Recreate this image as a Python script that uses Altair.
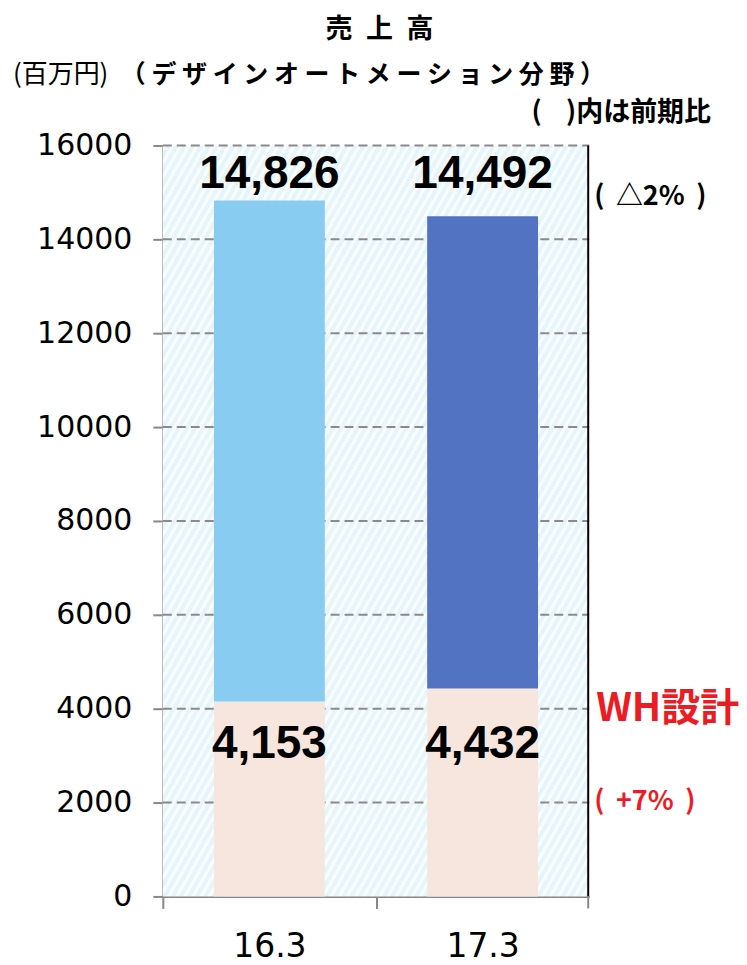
import altair as alt
import pandas as pd

# ---- data ----
categories = ["16.3", "17.3"]
wh_values = [4153, 4432]          # WH設計 segment
totals = [14826, 14492]           # デザインオートメーション分野 total
y_ticks = [0, 2000, 4000, 6000, 8000, 10000, 12000, 14000, 16000]

df = pd.DataFrame({
    "cat": categories,
    "wh": wh_values,
    "total": totals,
    "wh_label": [f"{v:,}" for v in wh_values],
    "total_label": [f"{v:,}" for v in totals],
})

JP = "Noto Sans CJK JP"
NUM = "Liberation Sans"
AX = "DejaVu Sans"
W, H = 427, 752
STEP = W / 2
RED = "#ec1c24"
GRAY = "#888888"

# hatched background gradient (style only)
n = 105
stops = []
for i in range(n):
    a = i / n
    b = (i + 0.45) / n
    c = (i + 1) / n
    stops += [
        alt.GradientStop(offset=a, color="#f8fcfd"),
        alt.GradientStop(offset=b, color="#f8fcfd"),
        alt.GradientStop(offset=b, color="#e6f5f9"),
        alt.GradientStop(offset=c, color="#e6f5f9"),
    ]
bg_grad = alt.LinearGradient(gradient="linear", x1=0, y1=0, x2=1, y2=1, stops=stops)

x_enc = alt.X(
    "cat:N",
    sort=categories,
    scale=alt.Scale(paddingInner=0.48, paddingOuter=0.24),
    axis=alt.Axis(
        title=None, labelAngle=0, labelFont=AX, labelFontSize=33, labelColor="black",
        labelPadding=22, tickOffset=-STEP / 2, labelOffset=STEP / 2, tickSize=12, tickColor=GRAY,
        tickWidth=2, domainColor=GRAY, domainWidth=2, grid=False,
    ),
)
y_scale = alt.Scale(domain=[0, 16000], nice=False)
y_axis = alt.Axis(
    title=None, values=y_ticks, format="d", labelFont=AX, labelFontSize=30,
    labelColor="black", labelPadding=21, tickSize=10, tickColor=GRAY, tickWidth=2,
    domainColor=GRAY, domainWidth=2, grid=False,
)

base = alt.Chart(df)

background = alt.Chart(pd.DataFrame({"v": [0]})).mark_rect(color=bg_grad).encode(
    x=alt.value(0), x2=alt.value(W), y=alt.value(0), y2=alt.value(H)
)
grid = alt.Chart(pd.DataFrame({"v": y_ticks[1:]})).mark_rule(
    color="#8a8a8a", strokeDash=[9, 5], strokeWidth=2
).encode(
    y=alt.Y("v:Q", scale=y_scale, axis=y_axis), x=alt.value(0), x2=alt.value(W)
)

wh_bars = base.mark_bar(color="#f7e6dd").encode(
    x=x_enc,
    y=alt.Y("wh:Q", scale=y_scale, axis=y_axis),
)
top_bars = base.mark_bar().encode(
    x=x_enc,
    y=alt.Y("wh:Q", scale=y_scale, axis=y_axis),
    y2="total:Q",
    color=alt.Color("cat:N", scale=alt.Scale(domain=categories, range=["#88cdf1", "#5273c2"]), legend=None),
)
total_text = base.mark_text(font=NUM, fontWeight="bold", fontSize=46, baseline="alphabetic", color="black").encode(
    x=x_enc, y=alt.value(43), text="total_label:N"
)
wh_text = base.mark_text(font=NUM, fontWeight="bold", fontSize=46, baseline="alphabetic", color="black").encode(
    x=x_enc, y=alt.value(613), text="wh_label:N"
)

right_border = alt.Chart(pd.DataFrame({"v": [0]})).mark_rule(color="black", strokeWidth=2).encode(
    x=alt.value(W - 1), y=alt.value(0), y2=alt.value(H)
)
right_tick = alt.Chart(pd.DataFrame({"v": [0]})).mark_rule(color=GRAY, strokeWidth=2).encode(
    x=alt.value(W - 1), y=alt.value(H), y2=alt.value(H + 12)
)


def txt(s, x, y, size, color="black", weight="bold", font=JP, align="left"):
    return alt.Chart(pd.DataFrame({"t": [s]})).mark_text(
        font=font, fontSize=size, fontWeight=weight, color=color, align=align, baseline="middle"
    ).encode(x=alt.value(x), y=alt.value(y), text="t:N")


sp = "\u00a0"
thin = "\u2009"
annotations = [
    txt("売\u2002上\u2002高", 217, -116, 27, align="center"),
    txt("(百万円)", -150, -71, 26, weight="normal"),
    txt(sp.join("（デザインオートメーション分野）"), -42, -71, 25),
    txt("(" + sp * 4 + ")内は前期比", 549, -32, 27, align="right"),
    txt("(" + sp + thin + "△2%" + sp + thin + ")", 432, 52, 27),
    txt("WH設計", 434, 564, 39, color=RED),
    txt("(" + sp + thin + "+7%" + sp + thin + ")", 432, 657, 27, color=RED),
]

chart = alt.layer(
    background, grid, wh_bars, top_bars, total_text, wh_text, right_border, right_tick, *annotations
).properties(
    width=W, height=H,
    padding={"left": 155, "top": 137, "right": 150, "bottom": 68},
    autosize=alt.AutoSizeParams(type="none"),
).configure_view(stroke="transparent")

chart.save("out.html", embed_options={"renderer": "svg", "actions": False})
